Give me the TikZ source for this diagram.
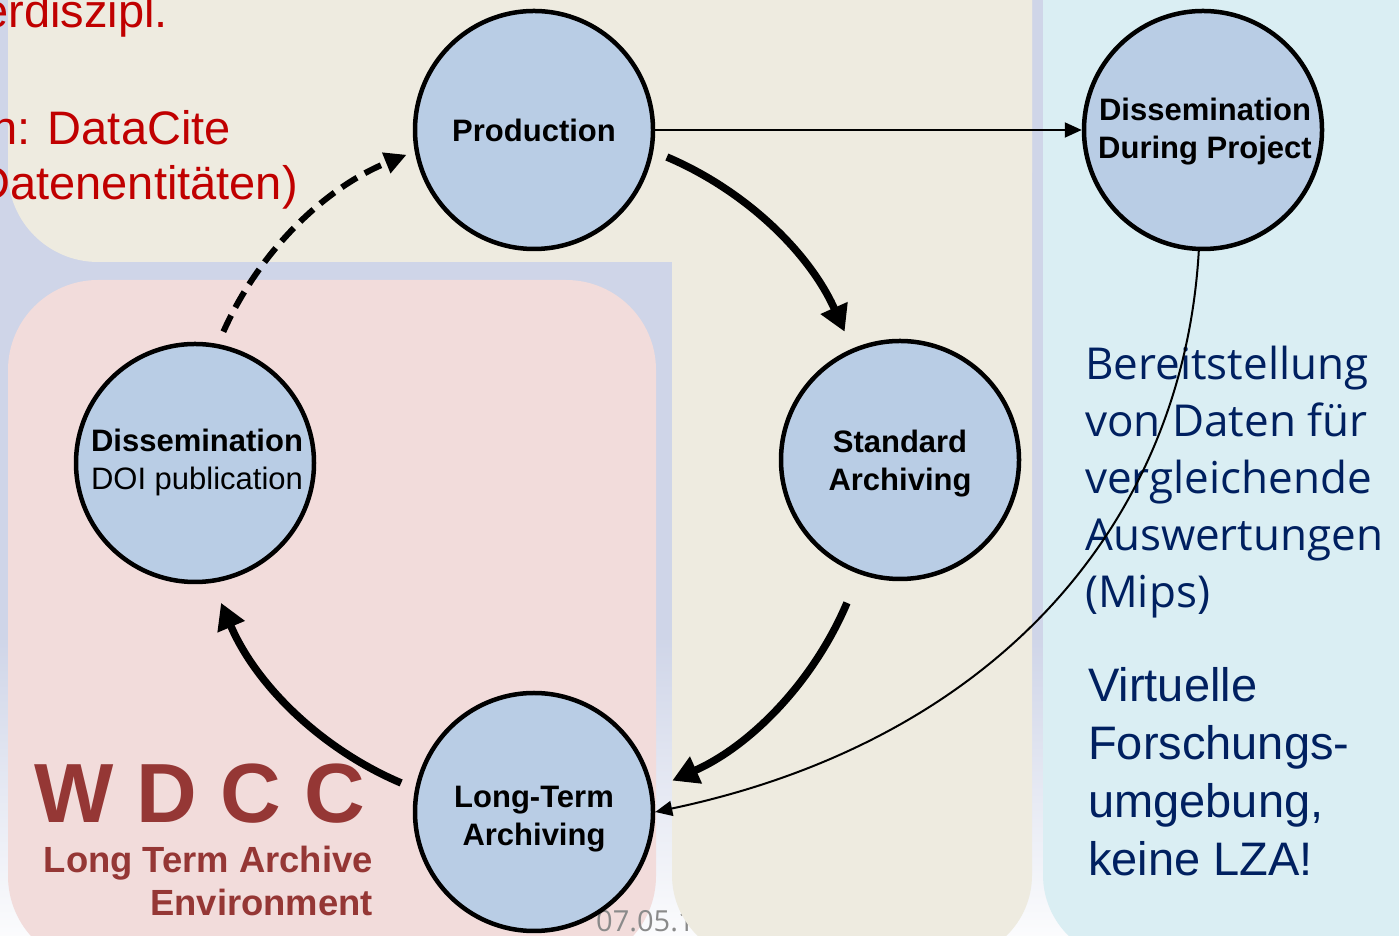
\documentclass[tikz,border=0pt]{standalone}
\usepackage{fontspec}
\setmainfont{Liberation Sans}
\newfontfamily\opensans{Open Sans}
\usetikzlibrary{arrows.meta,calc}
\definecolor{bglav}{HTML}{CFD5E8}
\definecolor{beigep}{HTML}{EEEBE0}
\definecolor{pinkp}{HTML}{F2DCDB}
\definecolor{bluep}{HTML}{DAEEF3}
\definecolor{circfill}{HTML}{B9CDE5}
\definecolor{redtxt}{HTML}{C00000}
\definecolor{navytxt}{HTML}{002060}
\definecolor{wdccred}{HTML}{953735}
\definecolor{dategray}{HTML}{8A8A8A}
\tikzset{
  circ/.style={circle, draw=black, line width=4.5pt, fill=circfill, minimum size=238pt, inner sep=0pt},
  lbl/.style={font=\bfseries\fontsize{31}{38}\selectfont, align=center, inner sep=0pt, text=black},
  redline/.style={font=\fontsize{47}{54}\selectfont, text=redtxt, inner sep=0pt, anchor=base east},
  blueline/.style={font=\opensans\fontsize{44}{57}\selectfont, text=navytxt, inner sep=0pt, anchor=base west},
  virtline/.style={font=\fontsize{47}{58}\selectfont, text=navytxt, inner sep=0pt, anchor=base west},
  wdccline/.style={font=\bfseries\fontsize{36.4}{43}\selectfont, text=wdccred, inner sep=0pt, anchor=base east},
  thickarr/.style={line width=7.5pt, -{Triangle[length=26pt,width=28pt]}},
  dasharr/.style={line width=6pt, dash pattern=on 18pt off 9pt, -{Triangle[length=22pt,width=21pt]}},
  thinarr/.style={line width=2pt, -{Triangle[length=17pt,width=15pt]}}
}
\begin{document}
\begin{tikzpicture}[x=1pt,y=1pt]
\useasboundingbox (0,0) rectangle (1399,936);
\clip (0,0) rectangle (1399,936);
% background
\fill[bglav] (0,0) rectangle (1399,936);
\shade[top color=bglav, bottom color=white!92!bglav] (0,0) rectangle (1399,300);
% panels
\fill[beigep, rounded corners=90pt] (8,674) rectangle (1032,1040);
\fill[pinkp, rounded corners=90pt] (8,-30) rectangle (656,656);
\node[font=\opensans\fontsize{29}{32}\selectfont, text=dategray, inner sep=0pt, anchor=base west] (date) at (596,4) {07.05.1};
\fill[beigep, rounded corners=85pt] (672,-24) rectangle (1032,1040);
\fill[bluep, rounded corners=85pt] (1043,-24) rectangle (1460,1040);

% red text (top left)
\node[redline] (r1) at (168,908) {erdiszipl.};
\node[redline] (r2) at (231,791) {n: DataCite};
\node[redline] (r3) at (298,736) {Datenentitäten)};

% right blue text
\node[blueline] (b1) at (1085,556) {Bereitstellung};
\node[blueline] (b2) at (1085,499) {von Daten für};
\node[blueline] (b3) at (1085,442) {vergleichende};
\node[blueline] (b4) at (1085,385) {Auswertungen};
\node[blueline] (b5) at (1085,328) {(Mips)};
\node[virtline] (v1) at (1088,234) {Virtuelle};
\node[virtline] (v2) at (1088,176) {Forschungs-};
\node[virtline] (v3) at (1088,118) {umgebung,};
\node[virtline] (v4) at (1088,60) {keine LZA!};

% WDCC
\node[font=\bfseries\fontsize{84}{90}\selectfont, text=wdccred, inner sep=0pt, anchor=base west] (wdcc) at (34,113) {W D C C};
\node[wdccline] (lta1) at (373,63) {Long Term Archive};
\node[wdccline] (lta2) at (373,20) {Environment};

% circles
\node[circ] (prod) at (534,806) {};
\node[circ] (ddp) at (1203,806) {};
\node[circ] (std) at (900,476) {};
\node[circ] (doi) at (195,473) {};
\node[circ] (lta) at (534,124) {};

\node[lbl] (prodT) at (534,806) {Production};
\node[lbl] (ddpT) at (1205,804) {Dissemination\\During Project};
\node[lbl] (stdT) at (900,472) {Standard\\Archiving};
\node[lbl, font=\fontsize{31}{38}\selectfont] (doiT) at (197,474) {\textbf{Dissemination}\\DOI publication};
\node[lbl] (ltaT) at (534,117) {Long-Term\\Archiving};

% cycle arrows (arcs around cycle centre)
\coordinate (C) at (534,466);
\coordinate (a1) at ($(C)+(67:340)$);
\coordinate (a2) at ($(C)+(-23:340)$);
\coordinate (a3) at ($(C)+(247:340)$);
\coordinate (a4) at ($(C)+(156:340)$);
\draw[thickarr] (a1) arc[start angle=67, end angle=24, radius=340];
\draw[thickarr] (a2) arc[start angle=-23, end angle=-66, radius=340];
\draw[thickarr] (a3) arc[start angle=247, end angle=203, radius=340];
\draw[dasharr] (a4) arc[start angle=156, end angle=112, radius=340];

% thin arrows
\draw[thinarr] (prod.east) -- (ddp.west);
\draw[thinarr] (ddp.-92) .. controls (1183,414) and (997,196) .. (lta.east);
\end{tikzpicture}
\end{document}
